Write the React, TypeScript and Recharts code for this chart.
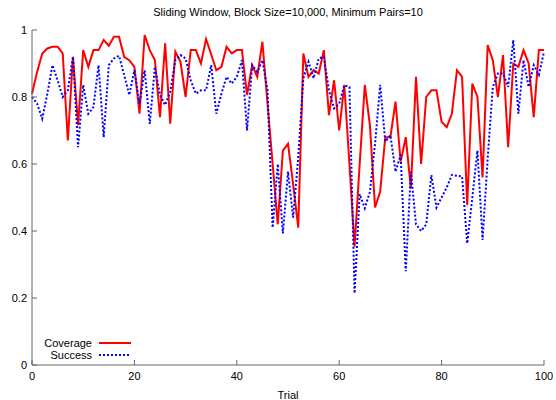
import React from 'react';
import { LineChart, Line, XAxis, YAxis } from 'recharts';

const coverage = [
  0.81, 0.875, 0.93, 0.945, 0.95, 0.95, 0.93, 0.67, 0.92, 0.716,
  0.94, 0.89, 0.94, 0.94, 0.97, 0.953, 0.98, 0.98, 0.92, 0.91,
  0.89, 0.75, 0.985, 0.94, 0.91, 0.74, 0.96, 0.72, 0.935, 0.905,
  0.8, 0.94, 0.94, 0.9, 0.973, 0.927, 0.88, 0.89, 0.95, 0.93,
  0.94, 0.94, 0.806, 0.895, 0.86, 0.965, 0.78, 0.6, 0.42, 0.64,
  0.66, 0.54, 0.41, 0.93, 0.86, 0.88, 0.87, 0.94, 0.746, 0.85,
  0.7, 0.836, 0.6, 0.353, 0.6, 0.836, 0.716, 0.47, 0.517, 0.68,
  0.68, 0.786, 0.607, 0.68, 0.527, 0.86, 0.6, 0.8, 0.82, 0.82,
  0.726, 0.71, 0.75, 0.88, 0.86, 0.478, 0.84, 0.8, 0.56, 0.955,
  0.91, 0.8, 0.925, 0.65, 0.9, 0.89, 0.94, 0.9, 0.74, 0.94, 0.94,
];

const success = [
  0.8, 0.78, 0.735, 0.81, 0.895, 0.85, 0.8, 0.82, 0.92, 0.65,
  0.836, 0.75, 0.77, 0.895, 0.68, 0.895, 0.915, 0.923, 0.866, 0.806,
  0.88, 0.78, 0.88, 0.72, 0.89, 0.806, 0.776, 0.816, 0.91, 0.925,
  0.915, 0.85, 0.81, 0.82, 0.82, 0.895, 0.75, 0.81, 0.86, 0.84,
  0.86, 0.91, 0.7, 0.895, 0.875, 0.91, 0.82, 0.41, 0.6, 0.393,
  0.577, 0.44, 0.62, 0.856, 0.905, 0.856, 0.915, 0.92, 0.82, 0.766,
  0.78, 0.835, 0.83, 0.214, 0.51, 0.468, 0.517, 0.66, 0.836, 0.667,
  0.686, 0.577, 0.627, 0.28, 0.577, 0.42, 0.4, 0.42, 0.567, 0.47,
  0.5, 0.53, 0.567, 0.565, 0.563, 0.363, 0.5, 0.64, 0.373, 0.617,
  0.83, 0.87, 0.87, 0.83, 0.97, 0.75, 0.91, 0.83, 0.895, 0.866, 0.935,
];

const xTicks = [0, 20, 40, 60, 80, 100];
const yTicks = [0, 0.2, 0.4, 0.6, 0.8, 1];

const data = coverage.map((c, i) => ({ trial: i, coverage: c, success: success[i] }));

const font = '"Liberation Sans", Arial, sans-serif';
const axisColor = '#666';
const tickStyle = { fontSize: 11, fill: '#000', fontFamily: font };

const LegendBox = () => (
  <div
    style={{
      position: 'absolute', left: 32, top: 337, fontFamily: font, fontSize: 11,
      color: '#000', lineHeight: '12px',
    }}
  >
    <div style={{ display: 'flex', alignItems: 'center' }}>
      <span style={{ width: 60, textAlign: 'right' }}>Coverage</span>
      <span style={{ marginLeft: 7, width: 32, borderTop: '2px solid #ff0000' }} />
    </div>
    <div style={{ display: 'flex', alignItems: 'center' }}>
      <span style={{ width: 60, textAlign: 'right' }}>Success</span>
      <span style={{ marginLeft: 7, width: 30, borderTop: '2px dotted #0000ff' }} />
    </div>
  </div>
);

export default function App() {
  return (
    <div style={{ position: 'absolute', left: 0, top: 0, width: 556, height: 400, background: '#fff' }}>
      <div
        style={{
          position: 'absolute', top: 6, left: 32, width: 512, textAlign: 'center',
          fontFamily: font, fontSize: 11, color: '#000',
        }}
      >
        Sliding Window, Block Size=10,000, Minimum Pairs=10
      </div>
      <LineChart width={556} height={400} data={data} margin={{ top: 30, right: 12, bottom: 0, left: 0 }}>
        <XAxis
          dataKey="trial" type="number" domain={[0, 100]} ticks={xTicks}
          height={35} stroke={axisColor} tickSize={-5} tickMargin={12}
          tick={tickStyle}
          label={{ value: 'Trial', position: 'insideBottom', offset: 1, style: { fontSize: 11, fill: '#000', fontFamily: font } }}
        />
        <XAxis
          xAxisId="top" orientation="top" dataKey="trial" type="number" domain={[0, 100]}
          ticks={xTicks} height={0} stroke={axisColor} tickSize={-5} tick={false}
        />
        <YAxis
          type="number" domain={[0, 1]} ticks={yTicks} width={32}
          stroke={axisColor} tickSize={-5} tickMargin={10} tick={tickStyle}
        />
        <YAxis
          yAxisId="right" orientation="right" type="number" domain={[0, 1]} ticks={yTicks}
          width={0} stroke={axisColor} tickSize={-5} tick={false}
        />
        <Line
          dataKey="coverage" name="Coverage" type="linear" stroke="#ff0000" strokeWidth={2}
          dot={false} isAnimationActive={false}
        />
        <Line
          dataKey="success" name="Success" type="linear" stroke="#0000ff" strokeWidth={2}
          strokeDasharray="2 2" dot={false} isAnimationActive={false}
        />
      </LineChart>
      <LegendBox />
    </div>
  );
}
